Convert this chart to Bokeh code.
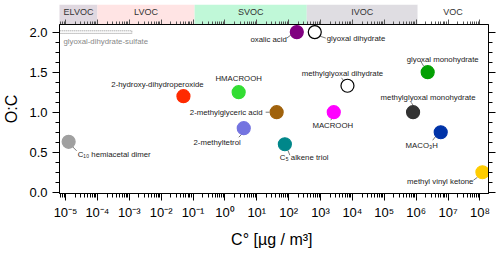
import numpy as np
from bokeh.plotting import figure
from bokeh.models import (Range1d, LinearAxis, FixedTicker, CustomJSTickFormatter,
                          ColumnDataSource)
from bokeh.layouts import column
from bokeh.embed import file_html
from bokeh.resources import INLINE
from bokeh.core.properties import value

# ---------------- data ----------------
names = ["C\u2081\u2080 hemiacetal dimer", "2-hydroxy-dihydroperoxide", "HMACROOH",
         "2-methylglyceric acid", "2-methyltetrol", "C\u2085 alkene triol", "MACROOH",
         "methylglyoxal dihydrate", "oxalic acid", "glyoxal dihydrate",
         "glyoxal monohydrate", "methylglyoxal monohydrate", "MACO\u2083H",
         "methyl vinyl ketone"]
cstar = [1.25e-5, 0.05, 2.7, 42, 3.9, 76, 2600, 7000, 180, 660, 2.3e6, 8e5, 5.9e6, 1.2e8]
oc = [0.63, 1.20, 1.25, 1.00, 0.80, 0.60, 1.00, 1.33, 2.00, 2.00, 1.50, 1.00, 0.75, 0.25]
fill_colors = ["#a0a0a0", "#ff2a00", "#33dd33", "#a0620c", "#7474e0", "#00878a", "#ff00ff",
               "#ffffff", "#800080", "#ffffff", "#03a003", "#333333", "#0033a8", "#ffcc00"]
line_colors = ["#a0a0a0", "#ff2a00", "#33dd33", "#a0620c", "#7474e0", "#00878a", "#ff00ff",
               "#000000", "#800080", "#000000", "#03a003", "#333333", "#0033a8", "#ffcc00"]

sulfate_name = ["glyoxal-dihydrate-sulfate"]
sulfate_lo = [1e-6]
sulfate_hi = [1.2e-3]
sulfate_oc = [2.0]

band_names = ["ELVOC", "LVOC", "SVOC", "IVOC", "VOC"]
band_lo = [1e-6, 1e-4, 0.112, 370.0, 1.12e6]
band_hi = [1e-4, 0.112, 370.0, 1.12e6, 1e9]
band_colors = ["#e0d8e0", "#ffe4e4", "#c0f8d8", "#dfdde2", "#ffffff"]

x_tick_exp = list(range(-5, 9))
x_tick_labels = ["10\u207b\u2075", "10\u207b\u2074", "10\u207b\u00b3", "10\u207b\u00b2", "10\u207b\u00b9",
                 "10\u2070", "10\u00b9", "10\u00b2", "10\u00b3", "10\u2074", "10\u2075", "10\u2076",
                 "10\u2077", "10\u2078"]
y_ticks = [0.0, 0.5, 1.0, 1.5, 2.0]

# ---------------- layout / style ----------------
FW, FH = 429, 169
LB, RB = 59, 10
XMIN, XMAX = 10 ** -5.19, 10 ** 8.27
YMIN, YMAX = -0.015, 2.095
FONT = value("Liberation Sans")
LABEL_SIZE = "7.8px"

# label placement (pixels relative to point): text offset, alignment, leader start/end
lab_dx = [9, -26, 0, -14, -3, -5, -1, -5, -10, 12, 15, 15, -19, -9]
lab_dy = [13, -12, -14, 0, 14, 13, 13, -12, 7, 6, -13, -15, 13, 9]
lab_align = ["left", "center", "center", "right", "right", "left", "center", "center",
             "right", "left", "center", "center", "center", "right"]
lead = [(3, 4, 8, 9), None, None, (-11, 0, -7, 0), (-1, 5, -5, 9), (3, 6, 5, 11),
        (-1, 5, -3, 8), (-3, -4, -6, -8), (-6, 3, -10, 6), (5, 4, 11, 6),
        (-4, -6, -7, -11), (0, -7, -2, -10), (-5, 4, -8, 8), (-5, 5, -9, 8)]

ppd = FW / (np.log10(XMAX) - np.log10(XMIN))
ppu = FH / (YMAX - YMIN)

xr = Range1d(XMIN, XMAX)
major_x = [10.0 ** e for e in x_tick_exp]
minor_x = [m * 10.0 ** e for e in range(-6, 9) for m in range(2, 10)]

# ---------------- band figure ----------------
bf = figure(frame_width=FW, frame_height=20, x_axis_type="log", x_range=xr,
            y_range=Range1d(0, 1), min_border_left=LB, min_border_right=RB,
            min_border_top=4, min_border_bottom=0, toolbar_location=None,
            output_backend="svg")
bf.outline_line_color = None
bf.xgrid.visible = False
bf.ygrid.visible = False
bf.yaxis.visible = False
bsrc = ColumnDataSource(dict(lo=band_lo, hi=band_hi, c=band_colors, name=band_names,
                             xc=[np.sqrt(max(l, XMIN) * min(h, XMAX)) for l, h in zip(band_lo, band_hi)],
                             yc=[0.63] * len(band_names)))
bf.quad(left="lo", right="hi", bottom=0, top=1, fill_color="c", line_color=None, source=bsrc)
bf.text(x="xc", y="yc", text="name", text_align="center", text_baseline="middle",
        text_font=FONT, text_font_size="9px", text_color="#333333", source=bsrc)
bax = bf.xaxis[0]
bax.ticker = FixedTicker(ticks=major_x, minor_ticks=minor_x)
bax.formatter = CustomJSTickFormatter(code="return '';")
bax.major_tick_in = 5
bax.major_tick_out = 0
bax.minor_tick_in = 3
bax.minor_tick_out = 0
bax.major_label_standoff = 0
bax.major_label_text_font_size = "1px"
bax.axis_line_color = "#555555"
bax.major_tick_line_color = "#555555"
bax.minor_tick_line_color = "#555555"

# ---------------- main figure ----------------
p = figure(frame_width=FW, frame_height=FH, x_axis_type="log", x_range=xr,
           y_range=Range1d(YMIN, YMAX), min_border_left=LB, min_border_right=RB,
           min_border_top=0, toolbar_location=None, output_backend="svg")
p.xgrid.visible = False
p.ygrid.visible = False
p.outline_line_color = "black"

# sulfate range
p.quad(left=sulfate_lo, right=sulfate_hi, bottom=[v - 0.016 for v in sulfate_oc],
       top=[v + 0.016 for v in sulfate_oc], fill_color=None, line_color="#888888",
       line_dash="1 1", line_width=1)
p.text(x=sulfate_lo, y=sulfate_oc, text=sulfate_name,
       x_offset=4 + (np.log10(XMIN) - np.log10(sulfate_lo[0])) * ppd,
       y_offset=9, text_align="left", text_baseline="middle", text_font=FONT,
       text_font_size=LABEL_SIZE, text_color="#888888")

# leaders
lx0, ly0, lx1, ly1 = [], [], [], []
for x, y, L in zip(cstar, oc, lead):
    if L is None:
        continue
    a, b, c, d = L
    lx0.append(x * 10 ** (a / ppd)); ly0.append(y - b / ppu)
    lx1.append(x * 10 ** (c / ppd)); ly1.append(y - d / ppu)
p.segment(x0=lx0, y0=ly0, x1=lx1, y1=ly1, line_color="#555555", line_width=0.8)

src = ColumnDataSource(dict(x=cstar, y=oc, name=names, fill=fill_colors, line=line_colors,
                            dx=lab_dx, dy=lab_dy, al=lab_align))
p.scatter(x="x", y="y", size=13, fill_color="fill", line_color="line", line_width=1.2,
          source=src)
p.text(x="x", y="y", text="name", x_offset="dx", y_offset="dy", text_align="al",
       text_baseline="middle", text_font=FONT, text_font_size=LABEL_SIZE, text_color="#222222",
       source=src)

# axes
xa = p.xaxis[0]
xa.ticker = FixedTicker(ticks=major_x, minor_ticks=minor_x)
xa.formatter = CustomJSTickFormatter(args=dict(labels=x_tick_labels), code="return labels[index];")
xa.axis_label = "C\u00b0  [\u00b5g / m\u00b3]"

ya = p.yaxis[0]
ya.ticker = FixedTicker(ticks=y_ticks, minor_ticks=list(np.arange(0, 2.001, 0.125)))
ya.formatter = CustomJSTickFormatter(code="return tick.toFixed(1);")
ya.axis_label = "O:C"

ra = LinearAxis(ticker=FixedTicker(ticks=y_ticks, minor_ticks=list(np.arange(0, 2.001, 0.125))),
                formatter=CustomJSTickFormatter(code="return '';"))
p.add_layout(ra, "right")

for ax in (xa, ya, ra):
    ax.major_tick_out = 7
    ax.major_tick_in = 0
    ax.minor_tick_out = 4
    ax.minor_tick_in = 0
    ax.axis_line_color = "black"
    ax.major_tick_line_color = "black"
    ax.minor_tick_line_color = "black"
    ax.major_label_text_font = "Liberation Sans"
    ax.major_label_text_font_size = "13px"
    ax.major_label_text_color = "black"
    ax.axis_label_text_font = "Liberation Sans"
    ax.axis_label_text_font_size = "16px"
    ax.axis_label_text_font_style = "normal"
    ax.axis_label_text_color = "black"
xa.major_label_standoff = 4
xa.axis_label_standoff = 8
ya.major_label_standoff = 5
ya.axis_label_standoff = 6
ra.major_label_standoff = 0
ra.major_label_text_font_size = "1px"

layout = column(bf, p)
open("out.html", "w").write(file_html(layout, INLINE))
